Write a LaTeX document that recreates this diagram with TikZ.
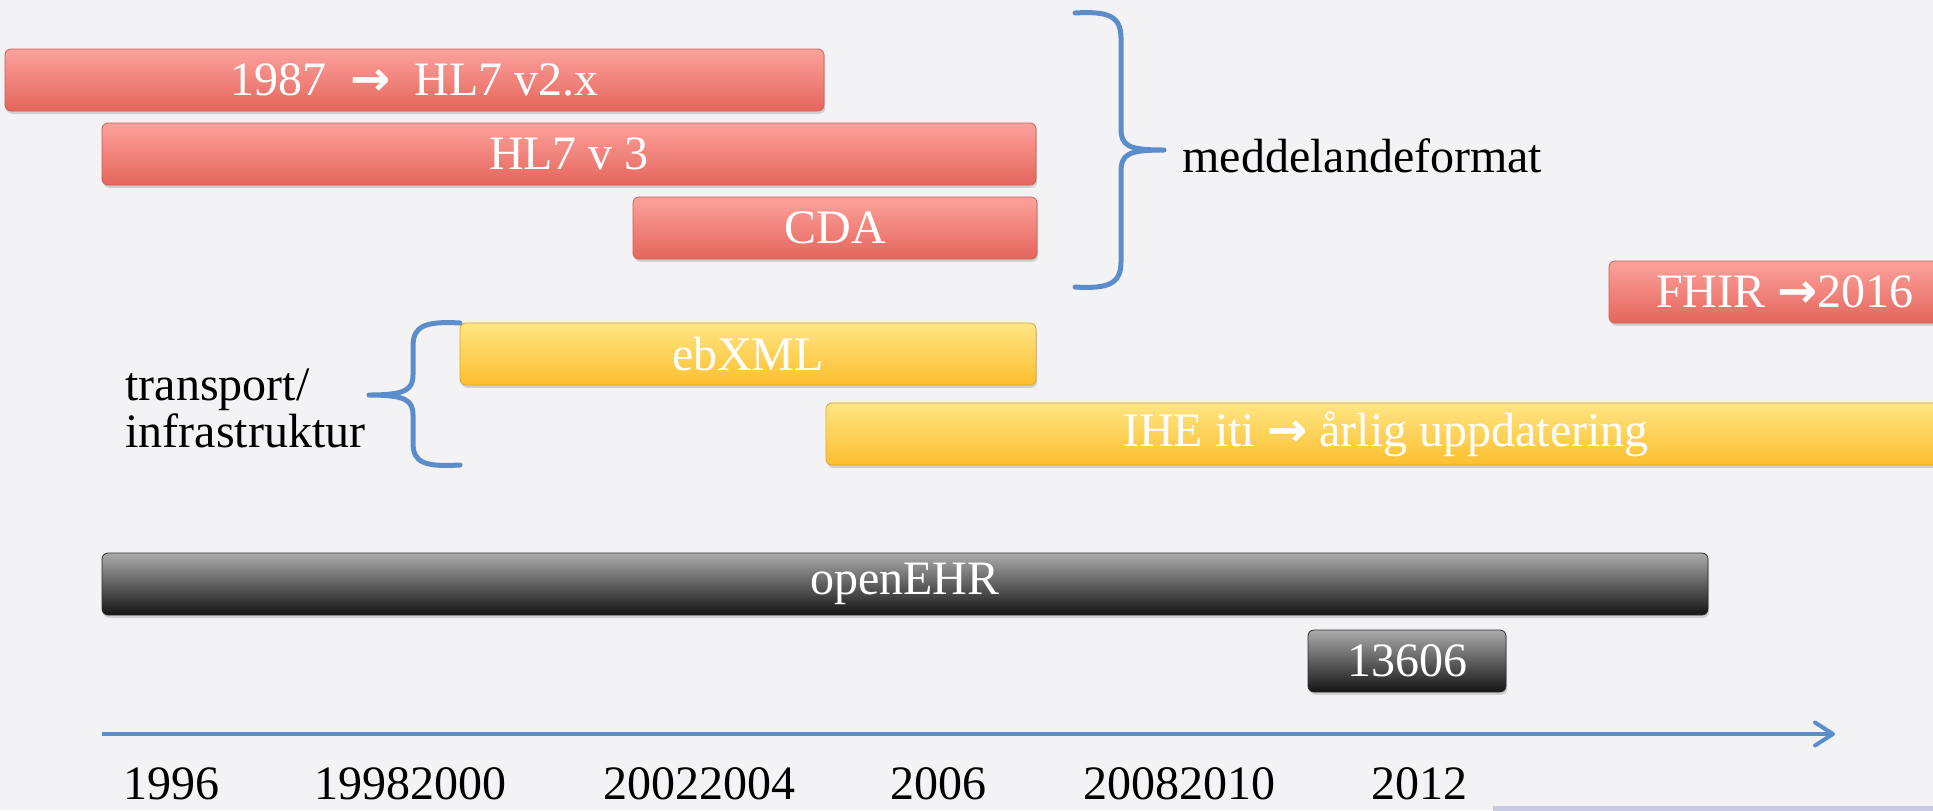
\documentclass[tikz,border=0pt]{standalone}
\usepackage{fontspec}
\setmainfont{Liberation Serif}
\newfontfamily\arrowfont{DejaVu Sans}
\usetikzlibrary{positioning,shadows,arrows.meta}

\definecolor{paper}{HTML}{F3F3F5}
\definecolor{redtop}{HTML}{FDA29C}
\definecolor{redbot}{HTML}{E4655C}
\definecolor{redline}{HTML}{CC5E56}
\definecolor{yeltop}{HTML}{FFE584}
\definecolor{yelbot}{HTML}{FDBF2E}
\definecolor{yelline}{HTML}{DFA62A}
\definecolor{blktop}{HTML}{ABABAB}
\definecolor{blkbot}{HTML}{141414}
\definecolor{blkline}{HTML}{2E2E2E}
\definecolor{bracecol}{HTML}{5A8DC9}
\definecolor{lavender}{HTML}{C9CAE2}

\newcommand\tlarrow{{\arrowfont\bfseries →}}

\begin{document}
\begin{tikzpicture}[x=0.5pt,y=-0.5pt,
    bar/.style={rounded corners=3pt, minimum height=31pt, inner sep=0pt, text=white,
        font=\fontsize{24}{28}\selectfont,
        drop shadow={shadow xshift=0.6pt,shadow yshift=-1.4pt,opacity=0.3}},
    redbar/.style={bar, draw=redline, top color=redtop, bottom color=redbot},
    yelbar/.style={bar, draw=yelline, top color=yeltop, bottom color=yelbot},
    blkbar/.style={bar, draw=blkline, top color=blktop, bottom color=blkbot},
    lbl/.style={inner sep=0pt, font=\fontsize{24}{23.5}\selectfont},
    yr/.style={lbl, anchor=base west},
    brc/.style={draw=bracecol, line width=2.5pt, line cap=round, line join=round},
    axis/.style={draw=bracecol, line width=2pt,
        -{Straight Barb[length=9pt,width=11.5pt,round]}}]
    \useasboundingbox (0,0) rectangle (1933,810);
    \fill[paper] (0,0) rectangle (1933,810);
    \clip (0,0) rectangle (1933,810);

    % meddelandeformat
    \node[redbar, minimum width=409.5pt] (hl7two) at (414.5,80) {1987 \ \tlarrow\ \ HL7 v2.x};
    \node[redbar, minimum width=467pt] (hl7three) at (569,154) {HL7 v 3};
    \node[redbar, minimum width=202pt] (cda) at (835,228) {CDA};
    \node[redbar, minimum width=176pt] (fhir) at (1785,292) {FHIR \tlarrow2016};
    \coordinate (medtip) at (1164,150);
    \draw[brc] (1075,13) .. controls (1108,11) and (1121,16) .. (1121,38) -- (1121,128)
        .. controls (1121,146) and (1128,150) .. (medtip)
        .. controls (1128,150) and (1121,154) .. (1121,172) -- (1121,262)
        .. controls (1121,284) and (1108,289) .. (1075,287);
    \node[lbl, anchor=base west] (medfmt) at (1182,172) {meddelandeformat};

    % transport
    \node[yelbar, minimum width=288pt] (ebxml) at (748,354) {ebXML};
    \node[yelbar, minimum width=560pt] (ihe) at (1386,434) {IHE iti \tlarrow\ årlig uppdatering};
    \coordinate (transtip) at (369,395);
    \draw[brc] (460,323) .. controls (425,321) and (413,326) .. (413,346) -- (413,375)
        .. controls (413,390) and (405,395) .. (transtip)
        .. controls (405,395) and (413,400) .. (413,415) -- (413,443)
        .. controls (413,463) and (425,467) .. (460,465);
    \node[lbl, align=left, anchor=base west] (transp) at (125,447) {transport/\\infrastruktur};

    % openEHR
    \node[blkbar, minimum width=803pt] (openehr) at (905,584) {openEHR};
    \node[blkbar, minimum width=99pt] (iso) at (1407,661) {13606};

    % tidslinje
    \coordinate (axstart) at (102,734);
    \coordinate (axend) at (1835,734);
    \draw[axis] (axstart) -- (axend);
    \node[yr] (y1996) at (123,799) {1996};
    \node[yr] (y1998) at (314,799) {19982000};
    \node[yr] (y2002) at (603,799) {20022004};
    \node[yr] (y2006) at (890,799) {2006};
    \node[yr] (y2008) at (1083,799) {20082010};
    \node[yr] (y2012) at (1371,799) {2012};
    \fill[lavender] (1493,806) rectangle (1940,812);
\end{tikzpicture}
\end{document}
